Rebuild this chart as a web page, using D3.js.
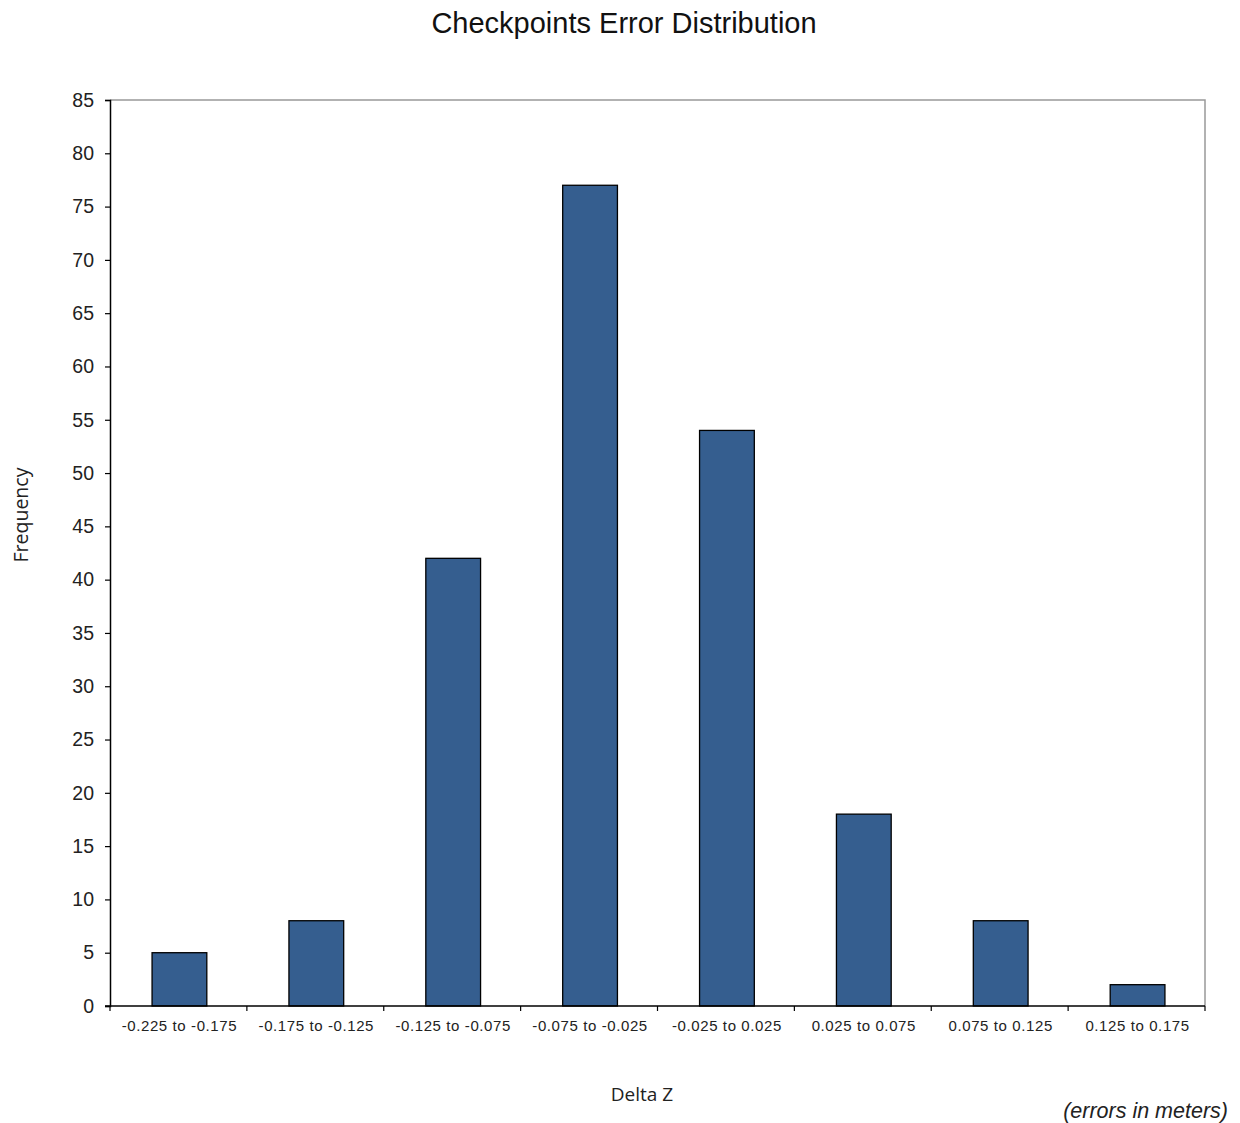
<!DOCTYPE html>
<html><head><meta charset="utf-8">
<script src="https://cdn.jsdelivr.net/npm/d3@7"></script>
<style>body{margin:0;background:#fff}svg{display:block}</style>
</head><body>
<script>
const categories = ["-0.225 to -0.175","-0.175 to -0.125","-0.125 to -0.075","-0.075 to -0.025","-0.025 to 0.025","0.025 to 0.075","0.075 to 0.125","0.125 to 0.175"];
const frequencies = [5, 8, 42, 77, 54, 18, 8, 2];
const yTicks = [0,5,10,15,20,25,30,35,40,45,50,55,60,65,70,75,80,85];
const titleText = "Checkpoints Error Distribution";
const xLabel = "Delta Z";
const yLabel = "Frequency";
const noteText = "(errors in meters)";

const W = 1240, H = 1123;
const m = {left:110, right:1205, top:100, bottom:1006};
const svg = d3.select("body").append("svg").attr("width", W).attr("height", H);

const x = d3.scaleBand().domain(categories).range([m.left, m.right]).paddingInner(0.6).paddingOuter(0.3);
const y = d3.scaleLinear().domain([0,85]).range([m.bottom, m.top]);

svg.append("path").attr("d", `M${m.left},${m.top}H${m.right}V${m.bottom}`)
  .attr("fill","none").attr("stroke","#999").attr("stroke-width",1.5);

svg.selectAll("rect.bar").data(frequencies).join("rect")
  .attr("x",(d,i)=>x(categories[i])+1).attr("width",x.bandwidth())
  .attr("y",d=>y(d)).attr("height",d=>y(0)-y(d))
  .attr("fill","#355E8F").attr("stroke","#000").attr("stroke-width",1.3);

const ya = svg.append("g").attr("transform",`translate(${m.left},0)`)
  .call(d3.axisLeft(y).tickValues(yTicks).tickSize(5).tickPadding(11));
ya.select(".domain").attr("stroke","#000").attr("stroke-width",1.5);
ya.selectAll(".tick line").attr("stroke","#000").attr("stroke-width",1.2);
ya.selectAll("text").attr("font-family","Liberation Sans, Arial, sans-serif").attr("font-size",19.5).attr("fill","#222");

const bounds = d3.range(categories.length+1).map(i => m.left + i*(m.right-m.left)/categories.length);
const xa = svg.append("g");
xa.append("line").attr("x1",m.left-5).attr("x2",m.right).attr("y1",m.bottom).attr("y2",m.bottom)
  .attr("stroke","#000").attr("stroke-width",1.5);
xa.selectAll("line.t").data(bounds).join("line").attr("class","t")
  .attr("x1",d=>d).attr("x2",d=>d).attr("y1",m.bottom).attr("y2",m.bottom+5)
  .attr("stroke","#000").attr("stroke-width",1.2);
xa.selectAll("text").data(categories).join("text")
  .attr("x",d=>x(d)+x.bandwidth()/2+1).attr("y",m.bottom+25)
  .attr("text-anchor","middle").attr("font-family","Liberation Sans, Arial, sans-serif")
  .attr("font-size",15).attr("letter-spacing",0.6).attr("fill","#222").text(d=>d);

svg.append("text").attr("x",624).attr("y",33).attr("text-anchor","middle")
  .attr("font-family","Liberation Sans, Arial, sans-serif").attr("font-size",29).attr("fill","#111").text(titleText);
svg.append("text").attr("x",642).attr("y",1101).attr("text-anchor","middle")
  .attr("font-family","Open Sans, Noto Sans, sans-serif").attr("font-size",19).attr("fill","#222").text(xLabel);
svg.append("text").attr("transform","translate(28,515) rotate(-90)").attr("text-anchor","middle")
  .attr("font-family","Open Sans, Noto Sans, sans-serif").attr("font-size",19.5).attr("fill","#222").text(yLabel);
svg.append("text").attr("x",1228).attr("y",1118).attr("text-anchor","end")
  .attr("font-family","Liberation Sans, Arial, sans-serif").attr("font-style","italic").attr("font-size",21.5).attr("fill","#222").text(noteText);
</script>
</body></html>
